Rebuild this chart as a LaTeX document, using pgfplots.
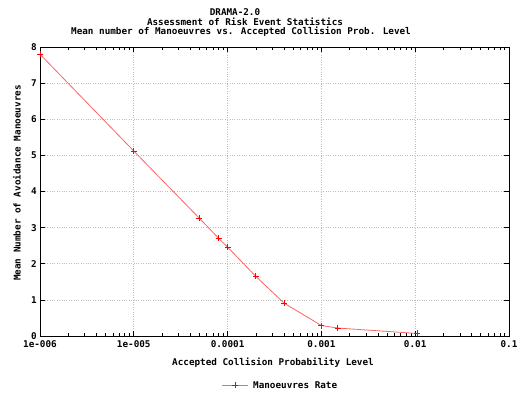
\documentclass[border=0pt]{standalone}
\usepackage{fontspec}
\setmainfont{DejaVu Sans Mono}
\usepackage{pgfplots}
\pgfplotsset{compat=1.18}
\definecolor{linered}{RGB}{255,100,100}
\definecolor{gridgray}{RGB}{190,190,190}
\begin{document}
\fontsize{9.3}{11}\selectfont\bfseries
\begin{tikzpicture}
\useasboundingbox (-40pt,-58pt) rectangle (483pt,336pt);
\begin{axis}[
  at={(0pt,0pt)}, anchor=south west,
  scale only axis, width=469pt, height=289pt,
  xmode=log, log basis x=10,
  xmin=1e-6, xmax=0.1, ymin=0, ymax=8,
  xtick={1e-6,1e-5,1e-4,1e-3,1e-2,1e-1},
  xticklabels={1e-006,1e-005,0.0001,0.001,0.01,0.1},
  minor xtick={2e-6,3e-6,4e-6,5e-6,6e-6,7e-6,8e-6,9e-6,
               2e-5,3e-5,4e-5,5e-5,6e-5,7e-5,8e-5,9e-5,
               2e-4,3e-4,4e-4,5e-4,6e-4,7e-4,8e-4,9e-4,
               2e-3,3e-3,4e-3,5e-3,6e-3,7e-3,8e-3,9e-3,
               2e-2,3e-2,4e-2,5e-2,6e-2,7e-2,8e-2,9e-2},
  ytick={0,1,2,3,4,5,6,7,8},
  /pgf/number format/assume math mode=true,
  ticklabel style={font=\fontsize{9.3}{11}\selectfont\bfseries},
  xticklabel style={yshift=-1pt},
  xmajorgrids, ymajorgrids,
  major grid style={gridgray, dotted, line width=0.7pt},
  tick style={black, line width=0.6pt},
  major tick length=5pt, minor tick length=3pt,
  tick align=inside,
  axis line style={black, line width=0.8pt},
  clip=false,
]
\addplot[linered, line width=0.8pt, mark=+, mark size=3pt, mark options={red, line width=0.9pt}] coordinates {
 (1e-6,7.80) (1e-5,5.12) (5e-5,3.26) (8e-5,2.71) (1e-4,2.46)
 (2e-4,1.65) (4e-4,0.91) (1e-3,0.29) (1.5e-3,0.22) (1.05e-2,0.07)
};
\end{axis}
\node[anchor=center] at (195pt,324pt) {DRAMA-2.0};
\node[anchor=center] at (205pt,314pt) {Assessment of Risk Event Statistics};
\node[anchor=center] at (201pt,304pt) {Mean number of Manoeuvres vs. Accepted Collision Prob. Level};
\node[anchor=center] at (233pt,-27pt) {Accepted Collision Probability Level};
\node[anchor=center, rotate=90] at (-23pt,153pt) {Mean Number of Avoidance Manoeuvres};
\draw[linered, line width=0.8pt] (182pt,-49pt) -- (208pt,-49pt);
\draw[red, line width=0.9pt] (192pt,-49pt) -- (198pt,-49pt) (195pt,-52pt) -- (195pt,-46pt);
\node[anchor=west, inner sep=0pt] at (213pt,-49pt) {Manoeuvres Rate};
\end{tikzpicture}
\end{document}
